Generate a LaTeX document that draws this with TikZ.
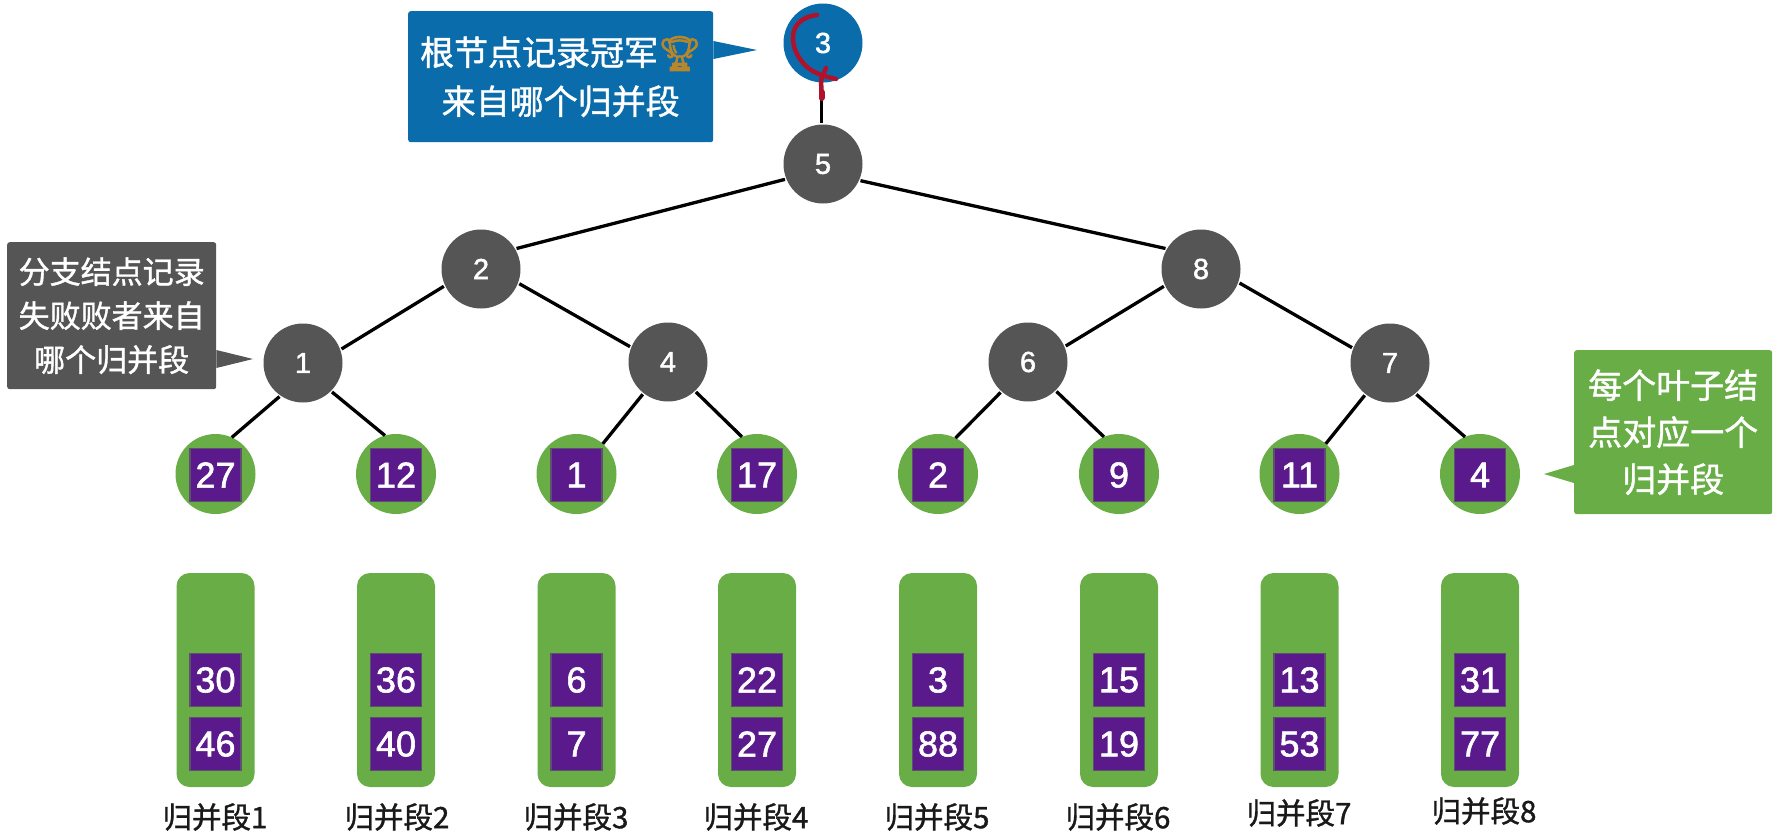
\documentclass[tikz,border=0pt]{standalone}
\usepackage{fontspec}
\setmainfont{Liberation Sans}[FakeBold=1.6]
\newfontfamily\cjk{Noto Sans CJK SC}[FakeBold=1.2]
\newfontfamily\emo{Noto Emoji}[FakeBold=3.5]
\definecolor{grn}{HTML}{68AD45}
\definecolor{pur}{HTML}{5A1A8C}
\definecolor{purb}{HTML}{5F5070}
\definecolor{dgr}{HTML}{555555}
\definecolor{blu}{HTML}{0A6CAA}
\definecolor{redc}{HTML}{B0122B}
\definecolor{gold}{HTML}{B8862B}
\tikzset{
  inner/.style={circle,fill=dgr,minimum size=79,inner sep=0,outer sep=1.5,text=white,font=\fontsize{29}{34}\selectfont},
  rootn/.style={inner,fill=blu},
  leafc/.style={circle,fill=grn,minimum size=80,inner sep=0,outer sep=0},
  sq/.style={rectangle,fill=pur,draw=purb,line width=1.2,minimum width=51,minimum height=52.5,inner sep=0,text=white,font=\fontsize{36}{40}\selectfont},
  runbox/.style={rectangle,rounded corners=13,fill=grn,minimum width=78,minimum height=214,inner sep=0},
  runlab/.style={inner sep=0,text=black!90,font=\fontsize{29.5}{32}\selectfont\cjk},
  edge/.style={line width=3.3,black},
  note/.style={rectangle,rounded corners=2.5,inner sep=0,align=center,text=white,anchor=north west},
}
\begin{document}
\begin{tikzpicture}[x=1pt,y=-1pt]
\useasboundingbox (0,0) rectangle (1781,835);
% tree
\node[rootn] (r) at (823,43) {3};
\node[inner] (n5) at (823,164) {5};
\node[inner] (n2) at (481,269) {2};
\node[inner] (n8) at (1201,269) {8};
\node[inner] (n1) at (303,363) {1};
\node[inner] (n4) at (668,362) {4};
\node[inner] (n6) at (1028,362) {6};
\node[inner] (n7) at (1390,363) {7};
% leaves and runs
\foreach \i/\x/\v/\a/\b/\ly/\lx in {
  1/215.5/27/30/46/817/215,
  2/396/12/36/40/817/397,
  3/576.5/1/6/7/817/576,
  4/757/17/22/27/817/756,
  5/938/2/3/88/817/937,
  6/1119/9/15/19/817/1118,
  7/1299.5/11/13/53/813/1299,
  8/1480/4/31/77/811/1484}{
  \node[leafc] (l\i) at (\x,474) {};
  \node[sq] (ls\i) at (\x,475) {\v};
  \node[runbox] (b\i) at (\x,680) {};
  \node[sq] (a\i) at (\x,680) {\a};
  \node[sq] (c\i) at (\x,744) {\b};
  \node[runlab] (t\i) at (\lx,\ly) {归并段\i};
}
% connectors
\draw[edge] ([xshift=-1.5]r.south) -- ([xshift=-1.5]n5.north);
\draw[edge] (n5.202) -- (n2.30);
\draw[edge] (n5.-24) -- (n8.150);
\draw[edge] (n2.205) -- (n1.20);
\draw[edge] (n2.-21) -- (n4.158);
\draw[edge] (n8.205) -- (n6.23);
\draw[edge] (n8.-20) -- (n7.158);
\draw[edge] (n1.235) -- (l1.66);
\draw[edge] (n1.-45) -- (l2.106);
\draw[edge] (n4.232) -- (l3.49);
\draw[edge] (n4.-47) -- (l4.112);
\draw[edge] (n6.228) -- (l5.64);
\draw[edge] (n6.-46) -- (l6.112);
\draw[edge] (n7.232) -- (l7.49);
\draw[edge] (n7.-50) -- (l8.112);
% callouts
\node[note,fill=blu,minimum width=305,minimum height=131,font=\fontsize{34}{47}\selectfont\cjk] (cb) at (408,11) {\raisebox{2pt}{根节点记录冠军{\emo\textcolor{gold}{🏆}}}\\来自哪个归并段};
\coordinate (cbt) at (757,50);
\fill[blu] ([yshift=-9]cb.east |- cbt) -- (cbt) -- ([yshift=9]cb.east |- cbt) -- cycle;
\node[note,fill=dgr,minimum width=209,minimum height=147,font=\fontsize{31}{44}\selectfont\cjk] (cg) at (7,242) {分支结点记录\\失败败者来自\\哪个归并段};
\coordinate (cgt) at (253,359);
\fill[dgr] ([yshift=-9]cg.east |- cgt) -- (cgt) -- ([yshift=9]cg.east |- cgt) -- cycle;
\node[note,fill=grn,minimum width=198,minimum height=164,font=\fontsize{34}{47}\selectfont\cjk] (cn) at (1574,350) {每个叶子结\\点对应一个\\归并段};
\coordinate (cnt) at (1544,474);
\fill[grn] ([yshift=-9]cn.west |- cnt) -- (cnt) -- ([yshift=9]cn.west |- cnt) -- cycle;
% red scribble on the root
\draw[redc,line width=4.5,line cap=round,line join=round]
  (817,15) .. controls (800,17) and (792,27) .. (793,40)
  .. controls (794,52) and (800,60) .. (806,66)
  .. controls (812,72) and (822,76) .. (836,79);
\draw[redc,line width=4.5,line cap=round,line join=round]
  (826,68) -- (821,80) -- (821.5,92);
\draw[redc,line width=6,line cap=round] (821.5,92) -- (821.5,98);
\end{tikzpicture}
\end{document}
